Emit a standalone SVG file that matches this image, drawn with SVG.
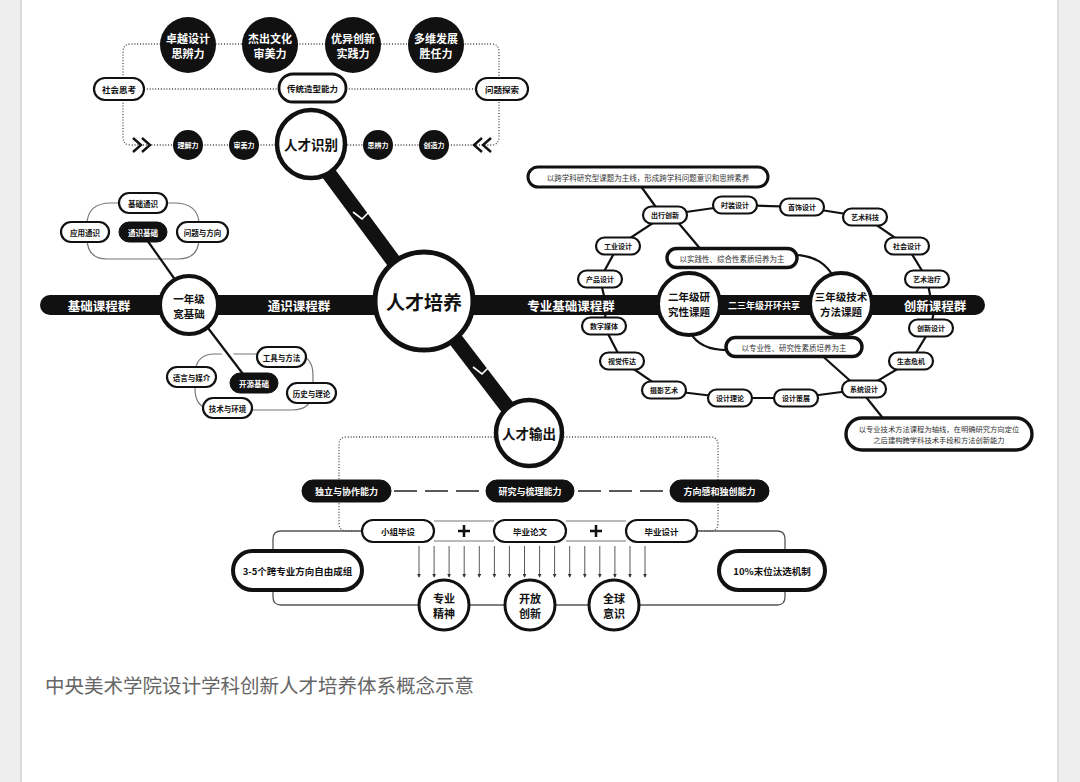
<svg xmlns="http://www.w3.org/2000/svg" width="1080" height="782" viewBox="0 0 1080 782">
<defs>
<style>
text{font-family:"Noto Sans CJK SC","Noto Sans",sans-serif;text-anchor:middle;dominant-baseline:central;font-weight:700;fill:#111}
.wt{fill:#fff}
.pill{fill:#fff;stroke:#111;stroke-width:2.2}
.blk{fill:#111;stroke:#111;stroke-width:1}
.thk{fill:#fff;stroke:#111;stroke-width:3.4}
.circ{fill:#fff;stroke:#111;stroke-width:4}
.dot{fill:none;stroke:#444;stroke-width:1.3;stroke-dasharray:1 1.8}
.ln{fill:none;stroke:#111;stroke-width:2.2}
.gl{fill:none;stroke:#777;stroke-width:1.2}
.ser{font-weight:400;fill:#333;font-size:7.5px}
.f7{font-size:7px}
.f75{font-size:7.5px}
.f85{font-size:8.5px}
.f9{font-size:9px}
.f11{font-size:11px}
.bar{font-size:12.5px;fill:#fff}
.arr{stroke:#444;stroke-width:0.9}
</style>
<marker id="ah" viewBox="0 0 6 6" refX="5" refY="3" markerUnits="userSpaceOnUse" markerWidth="4" markerHeight="4" orient="auto"><path d="M0,0 L6,3 L0,6 z" fill="#333"/></marker>
</defs>
<g id="page">
<rect width="1080" height="782" fill="#fff"/>
<rect x="0" y="0" width="20" height="782" fill="#eeeeee"/>
<rect x="20" y="0" width="2" height="782" fill="#d9d9d9"/>
<rect x="1057" y="0" width="2" height="782" fill="#dcdcdc"/>
<rect x="1059" y="0" width="21" height="782" fill="#eeeeee"/>
</g>
<g id="connectors">
<path class="dot" d="M123,78 V52 Q123,44 131,44 H491 Q499,44 499,52 V78"/>
<path class="dot" d="M123,100 V137 Q123,145 131,145 H491 Q499,145 499,137 V100"/>
<path class="dot" d="M144,89 H279 M346,89 H476"/>
<path d="M133,138 L141,145 L133,152 M142,138 L150,145 L142,152" fill="none" stroke="#111" stroke-width="2.4"/>
<path d="M482,138 L474,145 L482,152 M491,138 L483,145 L491,152" fill="none" stroke="#111" stroke-width="2.4"/>
<line x1="307" y1="144" x2="423" y2="301" stroke="#111" stroke-width="15"/>
<polyline points="353,212 362,219 368,213" fill="none" stroke="#fff" stroke-width="1.6"/>
<line x1="426" y1="301" x2="527" y2="433" stroke="#111" stroke-width="15"/>
<polyline points="473,367 482,374 488,368" fill="none" stroke="#fff" stroke-width="1.6"/>
<rect x="40" y="295" width="945" height="20" rx="10" fill="#111"/>
<path class="gl" d="M111,203 H174 Q199,203 199,225 V238 Q199,259 178,259 H107 Q87,259 87,238 V225 Q87,203 111,203 Z"/>
<line class="ln" x1="147" y1="240" x2="176" y2="281"/>
<path class="gl" d="M215,354 H292 Q313,354 313,375 V389 Q313,410 292,410 H216 Q195,410 195,389 V375 Q195,354 215,354 Z"/>
<line x1="208" y1="328" x2="246" y2="378" stroke="#fff" stroke-width="9"/>
<line class="ln" x1="208" y1="328" x2="246" y2="378"/>
<polyline class="ln" points="605,300 600,279 618,246 665,215 735,205 802,207 865,217 907,246 927,279 931,300"/>
<polyline class="ln" points="606,310 604,326 622,361 664,390 730,398 796,398 864,389 911,361 931,328 934,310"/>
<line class="ln" x1="640" y1="185" x2="658" y2="210"/>
<line class="ln" x1="676" y1="220" x2="703" y2="252"/>
<line class="ln" x1="818" y1="352" x2="856" y2="386"/>
<line class="ln" x1="862" y1="392" x2="886" y2="422"/>
<path class="ln" d="M790,255 Q822,254 834,278"/>
<path class="ln" d="M690,332 Q700,351 730,350"/>
<path class="dot" d="M500,437 H347 Q339,437 339,445 V523 Q339,531 347,531 H362"/>
<path class="dot" d="M558,437 H710 Q718,437 718,445 V523 Q718,531 710,531 H697"/>
<path d="M394,491 H480 M578,491 H664" stroke="#222" stroke-width="1.5" stroke-dasharray="23 8"/>
<path class="gl" d="M434,521 H494 M434,541 H494 M566,521 H626 M566,541 H626"/>
<path d="M458,531 H470 M464,525 V537 M590,531 H602 M596,525 V537" stroke="#111" stroke-width="2.5"/>
<path d="M362,531 H281 Q273,531 273,539 V597 Q273,605 281,605 H777 Q785,605 785,597 V539 Q785,531 777,531 H697" fill="none" stroke="#555" stroke-width="1.3"/>
<g marker-end="url(#ah)">
<line class="arr" x1="419" y1="546" x2="419" y2="577"/>
<line class="arr" x1="434.1" y1="546" x2="434.1" y2="577"/>
<line class="arr" x1="449.1" y1="546" x2="449.1" y2="577"/>
<line class="arr" x1="464.2" y1="546" x2="464.2" y2="577"/>
<line class="arr" x1="479.3" y1="546" x2="479.3" y2="577"/>
<line class="arr" x1="494.4" y1="546" x2="494.4" y2="577"/>
<line class="arr" x1="509.4" y1="546" x2="509.4" y2="577"/>
<line class="arr" x1="524.5" y1="546" x2="524.5" y2="577"/>
<line class="arr" x1="539.6" y1="546" x2="539.6" y2="577"/>
<line class="arr" x1="554.6" y1="546" x2="554.6" y2="577"/>
<line class="arr" x1="569.7" y1="546" x2="569.7" y2="577"/>
<line class="arr" x1="584.8" y1="546" x2="584.8" y2="577"/>
<line class="arr" x1="599.8" y1="546" x2="599.8" y2="577"/>
<line class="arr" x1="614.9" y1="546" x2="614.9" y2="577"/>
<line class="arr" x1="630" y1="546" x2="630" y2="577"/>
<line class="arr" x1="645" y1="546" x2="645" y2="577"/>
</g>
</g>
<g id="bar-labels">
<text class="bar" x="99" y="305">基础课程群</text>
<text class="bar" x="299" y="305">通识课程群</text>
<text class="bar" x="571" y="305">专业基础课程群</text>
<text class="bar" x="935" y="305">创新课程群</text>
<text class="wt f9" x="764" y="305">二三年级开环共享</text>
</g>
<g id="goal1"><circle cx="188" cy="45" r="28" fill="#111"/><text class="wt f11" x="188" y="38">卓越设计</text><text class="wt f11" x="188" y="53">思辨力</text></g>
<g id="goal2"><circle cx="270" cy="45" r="28" fill="#111"/><text class="wt f11" x="270" y="38">杰出文化</text><text class="wt f11" x="270" y="53">审美力</text></g>
<g id="goal3"><circle cx="353" cy="45" r="28" fill="#111"/><text class="wt f11" x="353" y="38">优异创新</text><text class="wt f11" x="353" y="53">实践力</text></g>
<g id="goal4"><circle cx="436" cy="45" r="28" fill="#111"/><text class="wt f11" x="436" y="38">多维发展</text><text class="wt f11" x="436" y="53">胜任力</text></g>
<g id="shehui"><rect class="pill" x="94" y="78" width="50" height="22" rx="11"/><text class="f85" x="119" y="89">社会思考</text></g>
<g id="chuantong"><rect class="pill" style="stroke-width:2.8" x="279" y="74" width="67" height="28" rx="14"/><text class="f85" x="312.5" y="88">传统造型能力</text></g>
<g id="wenti"><rect class="pill" x="476" y="78" width="52" height="22" rx="11"/><text class="f85" x="502" y="89">问题探索</text></g>
<g id="lijie"><circle cx="188" cy="145" r="15" fill="#111"/><text class="wt f7" x="188" y="145">理解力</text></g>
<g id="shenmei"><circle cx="244" cy="145" r="15" fill="#111"/><text class="wt f7" x="244" y="145">审美力</text></g>
<g id="sibian"><circle cx="378" cy="145" r="15" fill="#111"/><text class="wt f7" x="378" y="145">思辨力</text></g>
<g id="chuangzao"><circle cx="434" cy="145" r="15" fill="#111"/><text class="wt f7" x="434" y="145">创造力</text></g>
<g id="shibie"><circle cx="311" cy="144" r="34" fill="#fff" stroke="#111" stroke-width="4.5"/><text x="311" y="144" style="font-size:13.5px">人才识别</text></g>
<g id="peiyang"><circle cx="424" cy="301" r="49" fill="#fff" stroke="#111" stroke-width="5"/><text x="424" y="301" style="font-size:19px">人才培养</text></g>
<g id="shuchu"><circle cx="529" cy="433" r="33" fill="#fff" stroke="#111" stroke-width="4.5"/><text x="529" y="433" style="font-size:13.5px">人才输出</text></g>
<g id="year1"><circle class="circ" cx="189" cy="305" r="29"/><text x="189" y="298" style="font-size:10.5px">一年级</text><text x="189" y="313" style="font-size:10.5px">宽基础</text></g>
<g id="year2"><circle class="circ" cx="689" cy="304" r="31"/><text x="689" y="296" style="font-size:10.5px">二年级研</text><text x="689" y="311" style="font-size:10.5px">究性课题</text></g>
<g id="year3"><circle class="circ" cx="841" cy="304" r="31"/><text x="841" y="296" style="font-size:10.5px">三年级技术</text><text x="841" y="311" style="font-size:10.5px">方法课题</text></g>
<g id="jichutongshi"><rect class="pill" x="119" y="193" width="48" height="20" rx="10"/><text class="f75" x="143" y="203">基础通识</text></g>
<g id="yingyong"><rect class="pill" x="61" y="222" width="48" height="20" rx="10"/><text class="f75" x="85" y="232">应用通识</text></g>
<g id="tongshijichu"><rect class="blk" x="119" y="222" width="48" height="20" rx="10"/><text class="wt f75" x="143" y="232">通识基础</text></g>
<g id="wentifangxiang"><rect class="pill" x="177" y="222" width="51" height="20" rx="10"/><text class="f75" x="202.5" y="232">问题与方向</text></g>
<g id="kaiyuan"><rect class="blk" x="230" y="373" width="48" height="20" rx="10"/><text class="wt f75" x="254" y="383">开源基础</text></g>
<g id="gongju"><rect class="pill" x="257" y="347" width="49" height="20" rx="10"/><text class="f75" x="281.5" y="357">工具与方法</text></g>
<g id="yuyan"><rect class="pill" x="167" y="367" width="49" height="20" rx="10"/><text class="f75" x="191.5" y="377">语言与媒介</text></g>
<g id="lishi"><rect class="pill" x="287" y="383" width="49" height="20" rx="10"/><text class="f75" x="311.5" y="393">历史与理论</text></g>
<g id="jishu"><rect class="pill" x="203" y="398" width="49" height="20" rx="10"/><text class="f75" x="227.5" y="408">技术与环境</text></g>
<g id="note-top"><rect class="thk" style="stroke-width:3" x="528" y="167" width="240" height="20" rx="10"/><text class="ser" x="648" y="177">以跨学科研究型课题为主线，形成跨学科问题意识和思辨素养</text></g>
<g id="chuxing"><rect class="pill" x="643" y="206.5" width="44" height="17" rx="8.5"/><text class="f7" x="665" y="215">出行创新</text></g>
<g id="shizhuang"><rect class="pill" x="713" y="196.5" width="44" height="17" rx="8.5"/><text class="f7" x="735" y="205">时装设计</text></g>
<g id="shoushi"><rect class="pill" x="780" y="198.5" width="44" height="17" rx="8.5"/><text class="f7" x="802" y="207">首饰设计</text></g>
<g id="yishukeji"><rect class="pill" x="843" y="208.5" width="44" height="17" rx="8.5"/><text class="f7" x="865" y="217">艺术科技</text></g>
<g id="shehuisheji"><rect class="pill" x="885" y="237.5" width="44" height="17" rx="8.5"/><text class="f7" x="907" y="246">社会设计</text></g>
<g id="yishuzhiliao"><rect class="pill" x="905" y="270.5" width="44" height="17" rx="8.5"/><text class="f7" x="927" y="279">艺术治疗</text></g>
<g id="gongye"><rect class="pill" x="596" y="237.5" width="44" height="17" rx="8.5"/><text class="f7" x="618" y="246">工业设计</text></g>
<g id="chanpin"><rect class="pill" x="578" y="270.5" width="44" height="17" rx="8.5"/><text class="f7" x="600" y="279">产品设计</text></g>
<g id="shuzi"><rect class="pill" x="582" y="317.5" width="44" height="17" rx="8.5"/><text class="f7" x="604" y="326">数字媒体</text></g>
<g id="shijue"><rect class="pill" x="600" y="352.5" width="44" height="17" rx="8.5"/><text class="f7" x="622" y="361">视觉传达</text></g>
<g id="sheying"><rect class="pill" x="642" y="381.5" width="44" height="17" rx="8.5"/><text class="f7" x="664" y="390">摄影艺术</text></g>
<g id="lilun"><rect class="pill" x="708" y="389.5" width="44" height="17" rx="8.5"/><text class="f7" x="730" y="398">设计理论</text></g>
<g id="cezhan"><rect class="pill" x="774" y="389.5" width="44" height="17" rx="8.5"/><text class="f7" x="796" y="398">设计策展</text></g>
<g id="xitong"><rect class="pill" x="842" y="380.5" width="44" height="17" rx="8.5"/><text class="f7" x="864" y="389">系统设计</text></g>
<g id="shengtai"><rect class="pill" x="889" y="352.5" width="44" height="17" rx="8.5"/><text class="f7" x="911" y="361">生态危机</text></g>
<g id="chuangxin"><rect class="pill" x="909" y="319.5" width="44" height="17" rx="8.5"/><text class="f7" x="931" y="328">创新设计</text></g>
<g id="note-shijian"><rect class="thk" x="667" y="248.5" width="130" height="19" rx="9.5"/><text class="ser" x="732" y="258">以实践性、综合性素质培养为主</text></g>
<g id="note-zhuanye"><rect class="thk" x="726" y="337.5" width="136" height="19" rx="9.5"/><text class="ser" x="794" y="347">以专业性、研究性素质培养为主</text></g>
<g id="note-jishu"><rect class="thk" x="846" y="418" width="186" height="32" rx="16"/><text class="ser" style="font-size:7.3px" x="939" y="428.5">以专业技术方法课程为轴线，在明确研究方向定位</text><text class="ser" style="font-size:7.3px" x="939" y="440">之后建构跨学科技术手段和方法创新能力</text></g>
<g id="duli"><rect class="blk" x="302" y="480" width="89" height="22" rx="11"/><text class="wt f9" x="346.5" y="491">独立与协作能力</text></g>
<g id="yanjiu"><rect class="blk" x="486" y="480" width="88" height="22" rx="11"/><text class="wt f9" x="530" y="491">研究与梳理能力</text></g>
<g id="fangxiang"><rect class="blk" x="670" y="480" width="99" height="22" rx="11"/><text class="wt f9" x="719.5" y="491">方向感和独创能力</text></g>
<g id="xiaozu"><rect class="pill" x="362" y="520" width="72" height="22" rx="11"/><text class="f85" x="398" y="531">小组毕设</text></g>
<g id="lunwen"><rect class="pill" x="494" y="520" width="72" height="22" rx="11"/><text class="f85" x="530" y="531">毕业论文</text></g>
<g id="biyesheji"><rect class="pill" x="626" y="520" width="71" height="22" rx="11"/><text class="f85" x="661.5" y="531">毕业设计</text></g>
<g id="chengzu"><rect class="pill" style="stroke-width:4" x="233" y="551" width="129" height="39" rx="19.5"/><text x="297.5" y="570.5" style="font-size:9.5px">3-5个跨专业方向自由成组</text></g>
<g id="taixuan"><rect class="pill" style="stroke-width:4" x="719" y="551" width="106" height="39" rx="19.5"/><text x="772" y="570.5" style="font-size:9.5px">10%末位汰选机制</text></g>
<g id="jingshen"><circle cx="444" cy="605" r="25" fill="#fff" stroke="#111" stroke-width="3"/><text class="f11" x="444" y="598">专业</text><text class="f11" x="444" y="613">精神</text></g>
<g id="kaifang"><circle cx="530" cy="605" r="25" fill="#fff" stroke="#111" stroke-width="3"/><text class="f11" x="530" y="598">开放</text><text class="f11" x="530" y="613">创新</text></g>
<g id="quanqiu"><circle cx="614" cy="605" r="25" fill="#fff" stroke="#111" stroke-width="3"/><text class="f11" x="614" y="598">全球</text><text class="f11" x="614" y="613">意识</text></g>
<g id="caption"><text x="45" y="684" style="text-anchor:start;font-size:19.5px;font-weight:400;fill:#666">中央美术学院设计学科创新人才培养体系概念示意</text></g>
</svg>
